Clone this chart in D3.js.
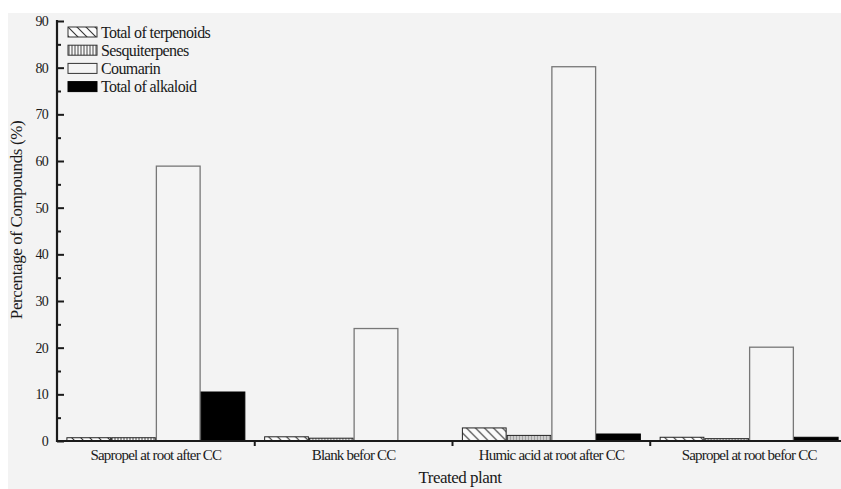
<!DOCTYPE html>
<html>
<head>
<meta charset="utf-8">
<script src="https://cdn.jsdelivr.net/npm/d3@7"></script>
<style>
  html, body { margin: 0; padding: 0; background: #ffffff; }
  svg { display: block; }
  text { font-family: "Liberation Serif", "DejaVu Serif", serif; fill: #1a1a1a; }
</style>
</head>
<body>
<svg id="chart" width="841" height="489"></svg>
<script>
// Treatments (x categories)
const categories = [
  "Sapropel at root after CC",
  "Blank befor CC",
  "Humic acid at root after CC",
  "Sapropel at root befor CC"
];

// Compound classes (legend order)
const seriesNames = ["Total of terpenoids", "Sesquiterpenes", "Coumarin", "Total of alkaloid"];

// Percentage of compounds per treatment, one array per compound class
const terpenoids     = [0.7, 0.9, 2.8, 0.8];
const sesquiterpenes = [0.7, 0.6, 1.2, 0.5];
const coumarin       = [58.9, 24.1, 80.2, 20.1];
const alkaloid       = [10.5, 0.1, 1.5, 0.8];

const yTicks = [0, 10, 20, 30, 40, 50, 60, 70, 80, 90];
const yMinorTicks = [5, 15, 25, 35, 45, 55, 65, 75, 85];

const seriesValues = [terpenoids, sesquiterpenes, coumarin, alkaloid];

const svg = d3.select("#chart");
const W = 841, H = 489;
const plotLeft = 57, plotRight = 848, plotTop = 21, plotBottom = 441;

// panel background
svg.append("rect").attr("x", 8).attr("y", 13).attr("width", W - 8).attr("height", H - 13)
  .attr("fill", "#f3f3f3");

// hatch patterns
const defs = svg.append("defs");
const diag = defs.append("pattern").attr("id", "diag").attr("patternUnits", "userSpaceOnUse")
  .attr("width", 9).attr("height", 9);
diag.append("rect").attr("width", 9).attr("height", 9).attr("fill", "#fbfbfb");
diag.append("path").attr("d", "M0,0 L9,9 M-9,0 L0,9 M0,-9 L9,0 M9,0 L18,9 M0,9 L9,18")
  .attr("stroke", "#333").attr("stroke-width", 1.1);

const vert = defs.append("pattern").attr("id", "vert").attr("patternUnits", "userSpaceOnUse")
  .attr("width", 3).attr("height", 6);
vert.append("rect").attr("width", 3).attr("height", 6).attr("fill", "#f8f8f8");
vert.append("path").attr("d", "M1,0 L1,6").attr("stroke", "#333").attr("stroke-width", 0.9);

const fills = ["url(#diag)", "url(#vert)", "#f4f4f4", "#000000"];
const strokes = ["#222", "#222", "#777", "#000"];

// scales
const x0 = d3.scaleBand().domain(categories).range([plotLeft, plotRight]).paddingInner(0).paddingOuter(0);
const x1 = d3.scaleBand().domain(d3.range(seriesNames.length)).range([0, x0.bandwidth()])
  .paddingInner(0).paddingOuter(0.21);
const y = d3.scaleLinear().domain([0, 90]).range([plotBottom, plotTop]);

// bars
const groups = svg.append("g").selectAll("g").data(categories).join("g")
  .attr("transform", d => `translate(${x0(d)},0)`);

groups.selectAll("rect")
  .data((d, ci) => seriesValues.map((vals, si) => ({ si, v: vals[ci] })))
  .join("rect")
  .attr("x", d => x1(d.si) + 0.5)
  .attr("y", d => y(d.v))
  .attr("width", x1.bandwidth() - 1)
  .attr("height", d => Math.max(0, y(0) - y(d.v)))
  .attr("fill", d => fills[d.si])
  .attr("stroke", d => strokes[d.si])
  .attr("stroke-width", d => d.si === 2 ? 1.3 : 1);

// y axis
const yAxis = d3.axisRight(y).tickValues(yTicks).tickSize(7).tickFormat("");
const gy = svg.append("g").attr("transform", `translate(${plotLeft},0)`).call(yAxis);
gy.select(".domain").remove();
gy.selectAll("line").attr("stroke", "#1a1a1a").attr("stroke-width", 2);

const gyMinor = svg.append("g").attr("transform", `translate(${plotLeft},0)`)
  .call(d3.axisRight(y).tickValues(yMinorTicks).tickSize(4).tickFormat(""));
gyMinor.select(".domain").remove();
gyMinor.selectAll("line").attr("stroke", "#1a1a1a").attr("stroke-width", 2);

svg.append("line").attr("x1", plotLeft).attr("x2", plotLeft).attr("y1", plotTop - 1).attr("y2", plotBottom + 1)
  .attr("stroke", "#1a1a1a").attr("stroke-width", 2.2);

svg.append("g").selectAll("text").data(yTicks).join("text")
  .attr("x", plotLeft - 9).attr("y", d => y(d)).attr("dy", "0.35em")
  .attr("text-anchor", "end").attr("font-size", 14).attr("letter-spacing", -0.8)
  .text(d => d);

// x axis
svg.append("line").attr("x1", plotLeft).attr("x2", W).attr("y1", plotBottom).attr("y2", plotBottom)
  .attr("stroke", "#1a1a1a").attr("stroke-width", 2);
svg.append("g").selectAll("line").data(categories.slice(1)).join("line")
  .attr("x1", d => x0(d)).attr("x2", d => x0(d))
  .attr("y1", plotBottom).attr("y2", plotBottom + 5)
  .attr("stroke", "#1a1a1a").attr("stroke-width", 2);

svg.append("g").selectAll("text").data(categories).join("text")
  .attr("x", d => x0(d) + x0.bandwidth() / 2).attr("y", 460)
  .attr("text-anchor", "middle").attr("font-size", 15).attr("letter-spacing", -0.8)
  .text(d => d);

// axis titles
svg.append("text").attr("x", 460).attr("y", 483).attr("text-anchor", "middle")
  .attr("font-size", 17).attr("letter-spacing", -0.5).text("Treated plant");
svg.append("text").attr("transform", "translate(22,220) rotate(-90)")
  .attr("text-anchor", "middle").attr("font-size", 17).attr("letter-spacing", -0.4)
  .text("Percentage of Compounds (%)");

// legend
const legend = svg.append("g").selectAll("g").data(seriesNames).join("g")
  .attr("transform", (d, i) => `translate(68,${27 + i * 18.2})`);
legend.append("rect").attr("width", 29).attr("height", 10)
  .attr("fill", (d, i) => fills[i]).attr("stroke", (d, i) => i === 3 ? "#000" : "#333")
  .attr("stroke-width", 1);
legend.append("text").attr("x", 33).attr("y", 5).attr("dy", "0.35em")
  .attr("font-size", 16).attr("letter-spacing", -0.6).text(d => d);
</script>
</body>
</html>
